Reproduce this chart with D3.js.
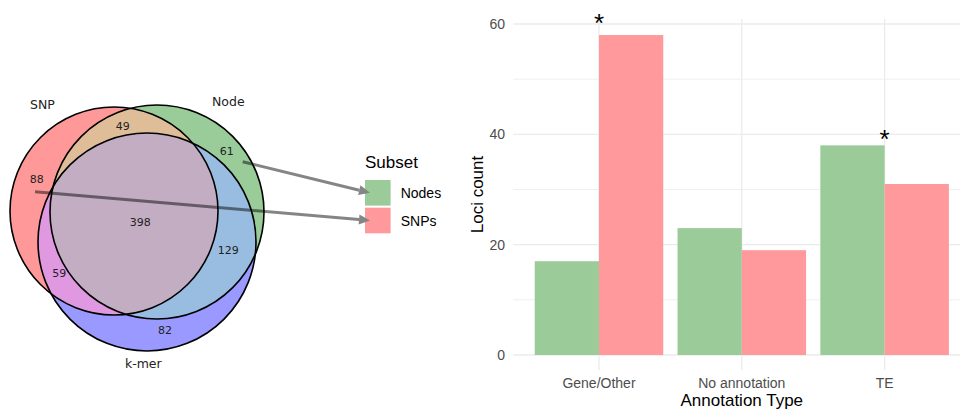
<!DOCTYPE html>
<html>
<head>
<meta charset="utf-8">
<script src="https://cdn.jsdelivr.net/npm/d3@7"></script>
<style>
  html, body { margin: 0; padding: 0; background: #ffffff; }
  svg { display: block; }
</style>
</head>
<body>
<svg id="chart" width="960" height="412"></svg>
<script>
// ---- Bar chart data: loci count per annotation type and subset ----
const categories = ["Gene/Other", "No annotation", "TE"];
const subsets = ["Nodes", "SNPs"];
const nodeCounts = [17, 23, 38];
const snpCounts = [58, 19, 31];
const yTicks = [0, 20, 40, 60];
const yMinorTicks = [10, 30, 50];
// significant categories and the count level their asterisk is centred on
const starCategories = ["Gene/Other", "TE"];
const starLevels = [61.3, 40.2];

// ---- Venn diagram data: sets and region sizes ----
// region keys give membership in (SNP, Node, k-mer)
const vennSets = ["SNP", "Node", "k-mer"];
const vennRegions = ["100", "010", "001", "110", "101", "011", "111"];
const vennCounts = [88, 61, 82, 49, 59, 129, 398];

// ---- Layout and style ----
const subsetColors = { Nodes: "#9bcb98", SNPs: "#ff999c" };
const vennBaseColors = [[1, 0, 0], [0, 0.5, 0], [0, 0, 1]];
const vennAlpha = 0.4;
const vennCircles = [
  { cx: 114, cy: 211, r: 104 },
  { cx: 157, cy: 212, r: 107 },
  { cx: 147, cy: 242, r: 109 }
];
const vennSetLabelPos = [[42.5, 109], [228.3, 105.5], [143.3, 368]];
const vennRegionLabelPos = {
  "100": [36.7, 182.7], "010": [226.7, 155], "001": [165, 334],
  "110": [122.7, 130], "101": [59.3, 276.7], "011": [228.3, 254], "111": [140.3, 225.7]
};
// arrows run from a Venn region to its legend key
const arrowStarts = { Nodes: [242.7, 161.7], SNPs: [35, 191.7] };
const legend = { x: 365, titleY: 168, keyY: 180, key: 25.6, step: 27.7, labelDx: 35.7 };
const panel = { left: 513.3, right: 970.3, top: 19, bottom: 370, y0: 355, y60: 24 };

const sans = "'Liberation Sans', Arial, Helvetica, sans-serif";
const venFont = "'DejaVu Sans', sans-serif";

const svg = d3.select("#chart");
const defs = svg.append("defs");

// ================= Venn diagram =================
const venn = svg.append("g").attr("class", "venn");

vennCircles.forEach((c, i) => {
  defs.append("clipPath").attr("id", "vclip" + i)
    .append("circle").attr("cx", c.cx).attr("cy", c.cy).attr("r", c.r);
  const m = defs.append("mask").attr("id", "vmask" + i)
    .attr("maskUnits", "userSpaceOnUse")
    .attr("x", 0).attr("y", 0).attr("width", 960).attr("height", 412);
  m.append("rect").attr("width", 960).attr("height", 412).attr("fill", "#fff");
  m.append("circle").attr("cx", c.cx).attr("cy", c.cy).attr("r", c.r).attr("fill", "#000");
});

// overlap colours: two sets mix as 0.7*(a+b), three as 0.4*(a+b+c), then faded by alpha
function regionColor(key) {
  const members = key.split("").map((b, i) => b === "1" ? i : -1).filter(i => i >= 0);
  const factor = members.length === 1 ? 1 : members.length === 2 ? 0.7 : 0.4;
  const mix = [0, 1, 2].map(ch =>
    Math.min(1, factor * d3.sum(members, i => vennBaseColors[i][ch])));
  const rgb = mix.map(v => Math.round(255 * (1 - vennAlpha + vennAlpha * v)));
  return d3.rgb(rgb[0], rgb[1], rgb[2]).formatHex();
}

vennRegions.forEach(key => {
  let g = venn.append("g");
  key.split("").forEach((b, i) => {
    if (b === "1") g = g.append("g").attr("clip-path", `url(#vclip${i})`);
  });
  key.split("").forEach((b, i) => {
    if (b === "0") g = g.append("g").attr("mask", `url(#vmask${i})`);
  });
  g.append("rect").attr("x", 0).attr("y", 60).attr("width", 300).attr("height", 320)
    .attr("fill", regionColor(key));
});

venn.selectAll("circle.outline").data(vennCircles).join("circle")
  .attr("class", "outline")
  .attr("cx", d => d.cx).attr("cy", d => d.cy).attr("r", d => d.r)
  .attr("fill", "none").attr("stroke", "#000").attr("stroke-width", 1.6);

venn.selectAll("text.setlabel").data(vennSets).join("text")
  .attr("class", "setlabel")
  .attr("x", (d, i) => vennSetLabelPos[i][0]).attr("y", (d, i) => vennSetLabelPos[i][1])
  .attr("text-anchor", "middle").attr("font-family", venFont).attr("font-size", 12.5)
  .attr("fill", "#222").text(d => d);

venn.selectAll("text.count").data(vennRegions).join("text")
  .attr("class", "count")
  .attr("x", d => vennRegionLabelPos[d][0]).attr("y", d => vennRegionLabelPos[d][1])
  .attr("text-anchor", "middle").attr("font-family", venFont).attr("font-size", 11)
  .attr("fill", "#222").text((d, i) => vennCounts[i]);

// ================= Legend =================
const lg = svg.append("g").attr("class", "legend");
lg.append("text").attr("x", legend.x).attr("y", legend.titleY)
  .attr("font-family", sans).attr("font-size", 17).attr("fill", "#000").text("Subset");
subsets.forEach((s, i) => {
  const ky = legend.keyY + i * legend.step;
  lg.append("rect").attr("x", legend.x).attr("y", ky)
    .attr("width", legend.key).attr("height", legend.key).attr("fill", subsetColors[s]);
  lg.append("text").attr("x", legend.x + legend.labelDx).attr("y", ky + legend.key / 2 + 5)
    .attr("font-family", sans).attr("font-size", 14).attr("fill", "#000").text(s);
});

// ================= Arrows from Venn regions to legend keys =================
const arrows = svg.append("g").attr("class", "arrows");
subsets.forEach((s, i) => {
  const [x0, y0] = arrowStarts[s];
  const tipX = legend.x + 5;
  const tipY = legend.keyY + i * legend.step + legend.key / 2;
  const ang = Math.atan2(tipY - y0, tipX - x0);
  const headLen = 11, headHalf = 5;
  const bx = tipX - headLen * Math.cos(ang), by = tipY - headLen * Math.sin(ang);
  arrows.append("line").attr("x1", x0).attr("y1", y0).attr("x2", bx).attr("y2", by)
    .attr("stroke", "#000").attr("stroke-opacity", 0.48).attr("stroke-width", 3);
  const nx = -Math.sin(ang), ny = Math.cos(ang);
  arrows.append("path")
    .attr("d", `M${tipX},${tipY}L${bx + nx * headHalf},${by + ny * headHalf}L${bx - nx * headHalf},${by - ny * headHalf}Z`)
    .attr("fill", "#858585");
});

// ================= Bar chart =================
const bars = svg.append("g").attr("class", "bars");
const x = d3.scaleBand().domain(categories).range([panel.left, panel.right])
  .paddingInner(0.1).paddingOuter(0.15);
const xs = d3.scaleBand().domain(subsets).range([0, x.bandwidth()]);
const y = d3.scaleLinear().domain([0, 60]).range([panel.y0, panel.y60]);

// grid
bars.selectAll("line.minor").data(yMinorTicks).join("line")
  .attr("class", "minor")
  .attr("x1", panel.left).attr("x2", panel.right)
  .attr("y1", d => y(d)).attr("y2", d => y(d))
  .attr("stroke", "#ebebeb").attr("stroke-width", 0.8);
bars.selectAll("line.major").data(yTicks).join("line")
  .attr("class", "major")
  .attr("x1", panel.left).attr("x2", panel.right)
  .attr("y1", d => y(d)).attr("y2", d => y(d))
  .attr("stroke", "#ebebeb").attr("stroke-width", 1.3);
bars.selectAll("line.vmajor").data(categories).join("line")
  .attr("class", "vmajor")
  .attr("x1", d => x(d) + x.bandwidth() / 2).attr("x2", d => x(d) + x.bandwidth() / 2)
  .attr("y1", panel.top).attr("y2", panel.bottom)
  .attr("stroke", "#ebebeb").attr("stroke-width", 1.3);

// bars
const barData = [];
categories.forEach((c, i) => {
  barData.push({ cat: c, subset: "Nodes", value: nodeCounts[i] });
  barData.push({ cat: c, subset: "SNPs", value: snpCounts[i] });
});
bars.selectAll("rect.bar").data(barData).join("rect")
  .attr("class", "bar")
  .attr("x", d => x(d.cat) + xs(d.subset))
  .attr("width", xs.bandwidth())
  .attr("y", d => y(d.value))
  .attr("height", d => y(0) - y(d.value))
  .attr("fill", d => subsetColors[d.subset]);

// significance asterisks
const starSize = 26;
bars.selectAll("text.star").data(starCategories).join("text")
  .attr("class", "star")
  .attr("x", d => x(d) + x.bandwidth() / 2)
  .attr("y", (d, i) => y(starLevels[i]) + 0.585 * starSize)
  .attr("text-anchor", "middle").attr("font-family", sans).attr("font-size", starSize)
  .attr("fill", "#000").text("*");

// axes
const yAxis = bars.append("g").attr("transform", `translate(${panel.left},0)`)
  .call(d3.axisLeft(y).tickValues(yTicks).tickSize(0).tickPadding(8.3));
const xAxis = bars.append("g").attr("transform", `translate(0,${panel.bottom})`)
  .call(d3.axisBottom(x).tickSize(0).tickPadding(7.6));
[yAxis, xAxis].forEach(a => {
  a.select(".domain").remove();
  a.selectAll("text").attr("font-family", sans).attr("font-size", 14).attr("fill", "#4d4d4d");
});

bars.append("text")
  .attr("transform", `translate(483,${(panel.top + panel.bottom) / 2}) rotate(-90)`)
  .attr("text-anchor", "middle").attr("font-family", sans).attr("font-size", 17)
  .attr("fill", "#000").text("Loci count");
bars.append("text")
  .attr("x", (panel.left + panel.right) / 2).attr("y", 406)
  .attr("text-anchor", "middle").attr("font-family", sans).attr("font-size", 17)
  .attr("fill", "#000").text("Annotation Type");
</script>
</body>
</html>
